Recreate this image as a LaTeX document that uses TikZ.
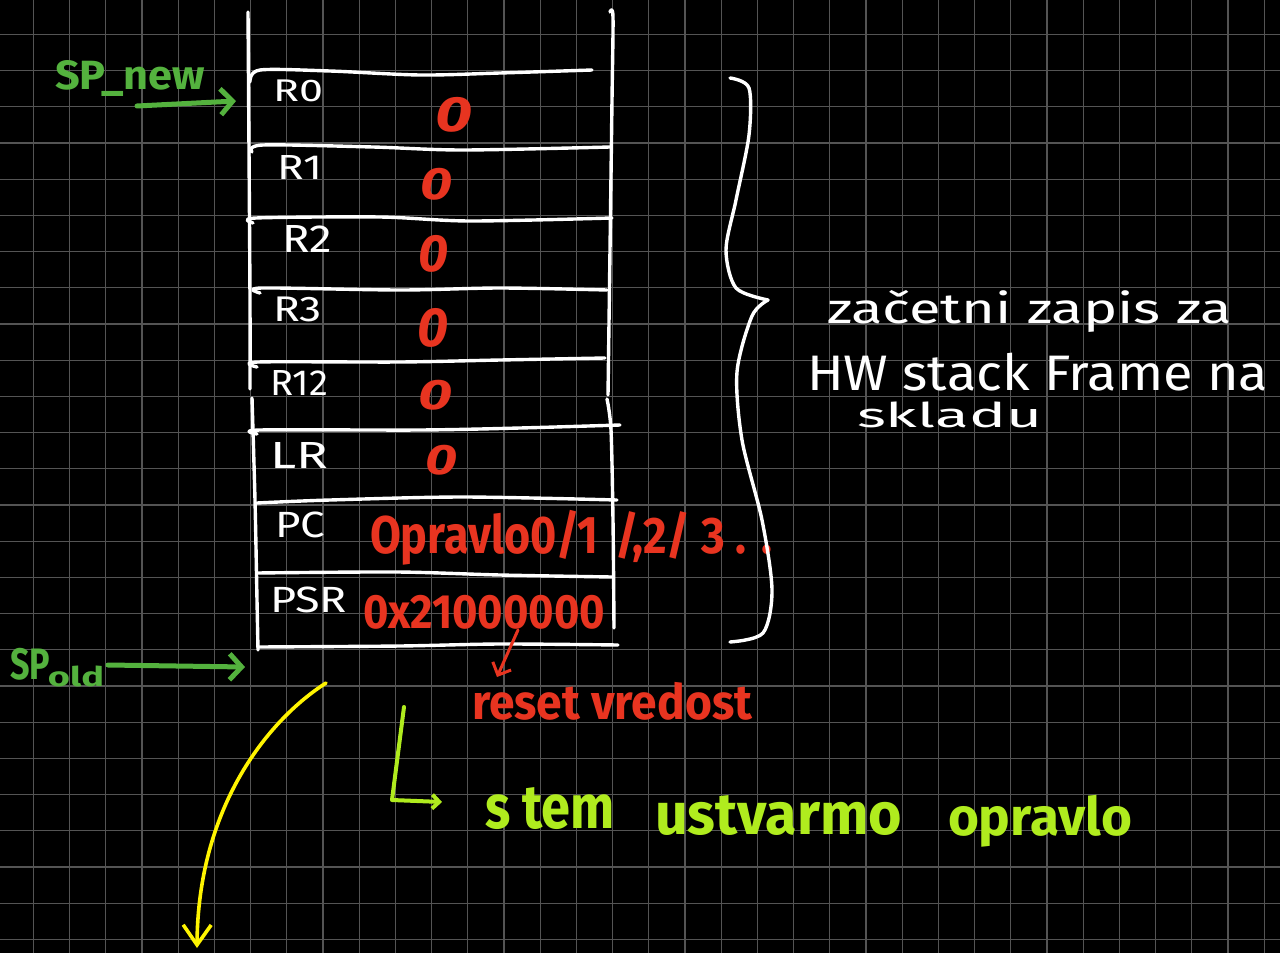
\documentclass[tikz,border=0pt]{standalone}
\usepackage{fontspec}
\setmainfont{Fira Sans}
\usepackage{graphicx}
\usetikzlibrary{arrows.meta}
\definecolor{gridgrey}{RGB}{84,84,84}
\definecolor{inkred}{RGB}{232,52,32}
\definecolor{inkgreen}{RGB}{84,178,62}
\definecolor{inkyellow}{RGB}{255,244,0}
\definecolor{inklime}{RGB}{176,236,30}
% text squeezed into a box of given width and total height (in px = pt)
\newcommand{\hw}[3]{\resizebox*{#1pt}{#2pt}{#3}}
\begin{document}
\begin{tikzpicture}[x=1pt,y=-1pt,line cap=round,line join=round,
  gridline/.style={draw=gridgrey,line width=1.2pt},
  frame/.style={draw=white,line width=3.4pt},
  lbl/.style={inner sep=0pt,outer sep=0pt,anchor=north west},
  reg/.style={lbl,text=white},
  val/.style={lbl,text=inkred,font=\bfseries},
  note/.style={lbl,text=white},
  sptext/.style={lbl,text=inkgreen,font=\bfseries},
  limetext/.style={lbl,text=inklime,font=\bfseries},
  sparrow/.style={draw=inkgreen,line width=5pt,-{Straight Barb[length=12pt,width=26pt]}},
  redarrow/.style={draw=inkred,line width=3pt,-{Straight Barb[length=10pt,width=20pt]}},
  yelarrow/.style={draw=inkyellow,line width=3.6pt,-{Straight Barb[length=20pt,width=28pt]}},
  limearrow/.style={draw=inklime,line width=4pt,-{Straight Barb[length=7pt,width=14pt]}},
  brace/.style={draw=white,line width=3.4pt}]

% background and squared paper
\fill[black] (0,0) rectangle (1280,953);
\useasboundingbox (0,0) rectangle (1280,953);
\foreach \k in {0,...,34} \draw[gridline] ({33.3+36.2*\k},0) -- ({33.3+36.2*\k},953);
\foreach \k in {0,...,25} \draw[gridline] (0,{34.3+36.2*\k}) -- (1280,{34.3+36.2*\k});

% stack frame: side walls
\draw[frame] plot[smooth] coordinates {(248,12) (249,150) (250,300) (250,389)};
\draw[frame] plot[smooth] coordinates {(252,398) (255,500) (257,600) (258,650)};
\draw[frame] plot[smooth] coordinates {(610,12) (613,17) (612,100) (610,250) (608,395)};
\draw[frame] plot[smooth] coordinates {(607,399) (611,430) (613,520) (614,628)};

% stack frame: row separators
\draw[frame] plot[smooth] coordinates {(250,82) (260,70) (330,71) (420,75) (500,73) (592,70)};
\draw[frame] plot[smooth] coordinates {(252,152) (263,145) (373,147) (463,150) (610,147)};
\draw[frame] plot[smooth] coordinates {(253,223) (256,218) (380,217) (470,221) (612,218)};
\draw[frame] plot[smooth] coordinates {(260,293) (262,288) (400,290) (500,288) (607,290)};
\draw[frame] plot[smooth] coordinates {(257,367) (258,362) (400,362) (500,360) (605,358)};
\draw[frame] plot[smooth] coordinates {(257,434) (260,430) (420,430) (520,428) (620,425)};
\draw[frame] plot[smooth] coordinates {(257,503) (330,500) (463,497) (617,500)};
\draw[frame] plot[smooth] coordinates {(257,573) (397,572) (500,575) (612,577)};
\draw[frame] plot[smooth] coordinates {(258,647) (400,646) (500,644) (618,645)};

% register names
\node[reg] (r0)  at (273,80)  {\hw{50}{22}{R0}};
\node[reg] (r1)  at (277,155) {\hw{45}{24}{R1}};
\node[reg] (r2)  at (282,225) {\hw{50}{27}{R2}};
\node[reg] (r3)  at (273,297) {\hw{49}{25}{R3}};
\node[reg] (r12) at (270,370) {\hw{58}{25}{R12}};
\node[reg] (lr)  at (270,442) {\hw{58}{26}{LR}};
\node[reg] (pc)  at (275,512) {\hw{50}{26}{PC}};
\node[reg] (psr) at (270,587) {\hw{77}{26}{PSR}};

% stored values
\node[val] (v0)  at (435,97)  {\hw{37}{35}{\itshape 0}};
\node[val] (v1)  at (420,168) {\hw{32}{32}{\itshape 0}};
\node[val] (v2)  at (418,235) {\hw{30}{37}{\itshape 0}};
\node[val] (v3)  at (417,308) {\hw{31}{39}{\itshape 0}};
\node[val] (v12) at (418,380) {\hw{34}{30}{\itshape 0}};
\node[val] (vlr) at (425,445) {\hw{32}{30}{\itshape 0}};
\node[val] (vpc) at (370,510) {\hw{228}{55}{Opravlo0/1}};
\node[val] (vpcb) at (615,512) {\hw{157}{51}{/,2/ 3 . .}};
\node[val] (vpsr) at (363,595) {\hw{242}{34}{0x21000000}};

% reset value note
\node[val] (reset) at (472,682) {\hw{280}{38}{reset vredost}};
\coordinate (resetfrom) at (518,630);
\coordinate (resetto) at (497,677);
\draw[redarrow] (resetfrom) -- (resetto);

% stack pointers
\node[sptext] (spnew) at (55,60) {\hw{150}{36}{SP\_new}};
\coordinate (spnewfrom) at (137,106);
\coordinate (spnewto) at (236,101);
\draw[sparrow] (spnewfrom) -- (spnewto);

\node[sptext] (spold) at (10,648) {\hw{40}{32}{SP}};
\node[sptext] (spoldsub) at (48,666) {\hw{56}{21}{old}};
\coordinate (spoldfrom) at (108,665);
\coordinate (spoldto) at (245,667);
\draw[sparrow] (spoldfrom) -- (spoldto);

% brace over the hardware frame
\draw[brace] plot[smooth] coordinates {(730,78) (749,88) (749,135) (736,200) (726,250) (736,288) (768,300)};
\draw[brace] plot[smooth] coordinates {(768,300) (752,316) (737,372) (742,440) (762,520) (772,590) (763,633) (730,642)};
\node[note] (n1) at (827,290) {\hw{405}{42}{začetni zapis za}};
\node[note] (n2) at (807,353) {\hw{461}{38}{HW stack Frame na}};
\node[note] (n3) at (857,402) {\hw{185}{26}{skladu}};

% stack growth
\coordinate (growfrom) at (326,683);
\coordinate (growto) at (197,948);
\draw[yelarrow] (growfrom) .. controls (265,722) and (198,810) .. (growto);

% conclusion
\coordinate (ltop) at (404,707);
\coordinate (lcorner) at (392,800);
\coordinate (lend) at (442,802);
\draw[limearrow] (ltop) -- (lcorner) -- (lend);
\node[limetext] (w1) at (485,788) {\hw{130}{42}{s tem}};
\node[limetext] (w2) at (655,795) {\hw{247}{40}{ustvarmo}};
\node[limetext] (w3) at (948,795) {\hw{184}{52}{opravlo}};
\end{tikzpicture}
\end{document}
